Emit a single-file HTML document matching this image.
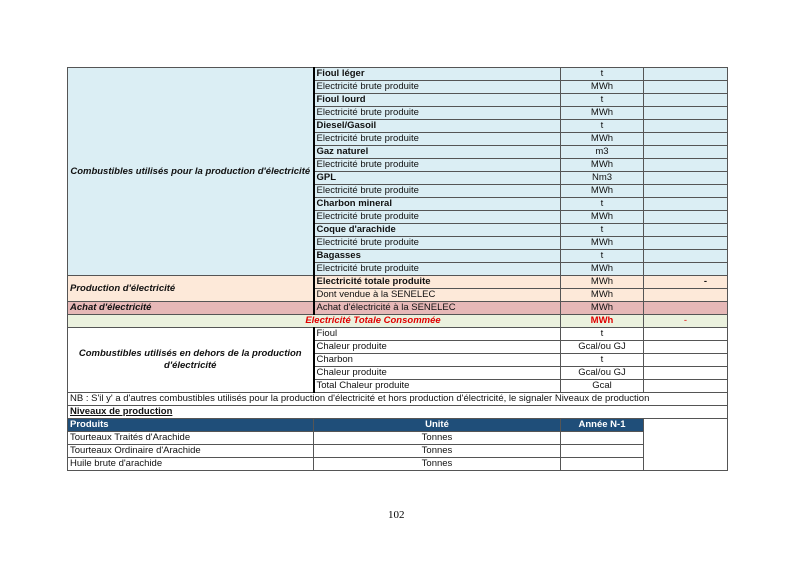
<!DOCTYPE html>
<html><head><meta charset="utf-8"><style>
html,body{margin:0;padding:0;background:#fff;width:800px;height:566px;overflow:hidden}
table{position:absolute;left:67px;top:67px;border-collapse:collapse;table-layout:fixed;font-family:"Liberation Sans",sans-serif;font-size:9.5px;color:#111}
td{height:12px;padding:0 2px;border:1px solid #555;white-space:nowrap;overflow:hidden;line-height:12px}
.b{background:#dbeef4}.p{background:#fde9d9}.k{background:#e6b8b7}.g{background:#ebf1de}
.c{text-align:center}.bo{font-weight:bold}.it{font-style:italic;font-weight:bold}
.l{border-right:2px solid #000}
.h{background:#1f4e79;color:#fff;font-weight:bold}
.red{color:#e00000}
.pg{position:absolute;left:388px;top:509px;font-family:"Liberation Serif",serif;font-size:11px}
</style></head><body>
<table>
<col style="width:246px"><col style="width:247px"><col style="width:83px"><col style="width:84px">
<tr><td class="b l it c" rowspan="16" style="white-space:normal">Combustibles utilisés pour la production d'électricité</td><td class="b bo">Fioul léger</td><td class="b c">t</td><td class="b"></td></tr>
<tr><td class="b">Electricité brute produite</td><td class="b c">MWh</td><td class="b"></td></tr>
<tr><td class="b bo">Fioul lourd</td><td class="b c">t</td><td class="b"></td></tr>
<tr><td class="b">Electricité brute produite</td><td class="b c">MWh</td><td class="b"></td></tr>
<tr><td class="b bo">Diesel/Gasoil</td><td class="b c">t</td><td class="b"></td></tr>
<tr><td class="b">Electricité brute produite</td><td class="b c">MWh</td><td class="b"></td></tr>
<tr><td class="b bo">Gaz naturel</td><td class="b c">m3</td><td class="b"></td></tr>
<tr><td class="b">Electricité brute produite</td><td class="b c">MWh</td><td class="b"></td></tr>
<tr><td class="b bo">GPL</td><td class="b c">Nm3</td><td class="b"></td></tr>
<tr><td class="b">Electricité brute produite</td><td class="b c">MWh</td><td class="b"></td></tr>
<tr><td class="b bo">Charbon mineral</td><td class="b c">t</td><td class="b"></td></tr>
<tr><td class="b">Electricité brute produite</td><td class="b c">MWh</td><td class="b"></td></tr>
<tr><td class="b bo">Coque d'arachide</td><td class="b c">t</td><td class="b"></td></tr>
<tr><td class="b">Electricité brute produite</td><td class="b c">MWh</td><td class="b"></td></tr>
<tr><td class="b bo">Bagasses</td><td class="b c">t</td><td class="b"></td></tr>
<tr><td class="b">Electricité brute produite</td><td class="b c">MWh</td><td class="b"></td></tr>
<tr><td class="p l it" rowspan="2">Production d'électricité</td><td class="p bo">Electricité totale produite</td><td class="p c">MWh</td><td class="p c bo" style="text-align:right;padding-right:20px">-</td></tr>
<tr><td class="p">Dont vendue à la SENELEC</td><td class="p c">MWh</td><td class="p"></td></tr>
<tr><td class="k l it">Achat d'électricité</td><td class="k">Achat d'électricité à la SENELEC</td><td class="k c">MWh</td><td class="k"></td></tr>
<tr><td class="g it red" colspan="2" style="text-align:center;padding-left:120px">Electricité Totale Consommée</td><td class="g c bo red">MWh</td><td class="g c red">-</td></tr>
<tr><td class="l it c" rowspan="5" style="white-space:normal;line-height:12px">Combustibles utilisés en dehors de la production d'électricité</td><td>Fioul</td><td class="c">t</td><td></td></tr>
<tr><td>Chaleur produite</td><td class="c">Gcal/ou GJ</td><td></td></tr>
<tr><td>Charbon</td><td class="c">t</td><td></td></tr>
<tr><td>Chaleur produite</td><td class="c">Gcal/ou GJ</td><td></td></tr>
<tr><td>Total Chaleur produite</td><td class="c">Gcal</td><td></td></tr>
<tr><td colspan="4">NB : S'il y' a d'autres combustibles utilisés pour la production d'électricité et hors production d'électricité, le signaler Niveaux de production</td></tr>
<tr><td colspan="4" class="bo" style="text-decoration:underline">Niveaux de production</td></tr>
<tr><td class="h">Produits</td><td class="h c">Unité</td><td class="h c">Année N-1</td><td rowspan="4"></td></tr>
<tr><td>Tourteaux Traités d'Arachide</td><td class="c">Tonnes</td><td></td></tr>
<tr><td>Tourteaux Ordinaire d'Arachide</td><td class="c">Tonnes</td><td></td></tr>
<tr><td>Huile brute d'arachide</td><td class="c">Tonnes</td><td></td></tr>
</table>
<div class="pg">102</div>
</body></html>
